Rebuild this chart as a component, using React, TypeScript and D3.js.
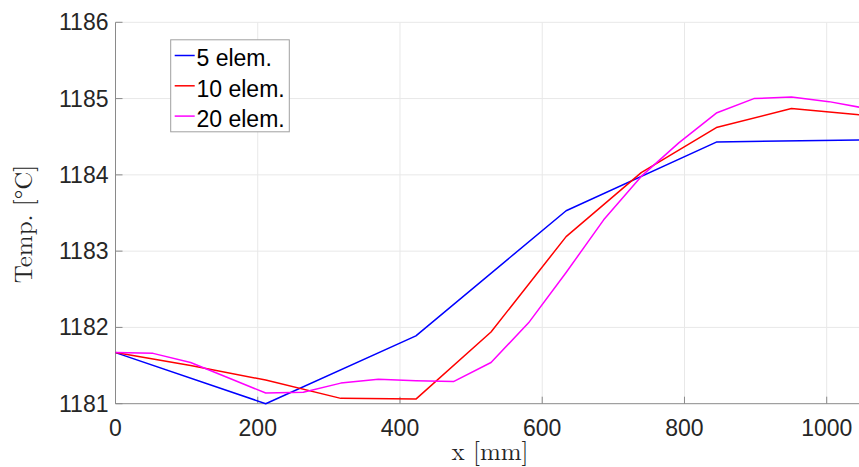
import React from "react";
import * as d3 from "d3";

const W = 859;
const H = 467;

const xTicks = [0, 200, 400, 600, 800, 1000];
const yTicks = [1181, 1182, 1183, 1184, 1185, 1186];

const seriesNames = ["5 elem.", "10 elem.", "20 elem."];
const seriesColors = ["#0000ff", "#ff0000", "#ff00ff"];

const x5 = [0, 211.2, 422.4, 633.6, 844.8, 1056];
const y5 = [1181.67, 1181.0, 1181.89, 1183.53, 1184.43, 1184.46];

const x10 = [0, 105.6, 211.2, 316.8, 422.4, 528, 633.6, 739.2, 844.8, 950.4, 1056];
const y10 = [1181.67, 1181.5, 1181.31, 1181.07, 1181.06, 1181.94, 1183.19, 1184.03, 1184.62, 1184.87, 1184.78];

const x20 = [0, 52.8, 105.6, 158.4, 211.2, 264, 316.8, 369.6, 422.4, 475.2, 528, 580.8, 633.6, 686.4, 739.2, 792, 844.8, 897.6, 950.4, 1003.2, 1056];
const y20 = [1181.67, 1181.66, 1181.54, 1181.34, 1181.14, 1181.15, 1181.27, 1181.32, 1181.3, 1181.29, 1181.54, 1182.06, 1182.72, 1183.41, 1183.98, 1184.42, 1184.81, 1185.0, 1185.02, 1184.96, 1184.87];

const xs = [x5, x10, x20];
const ys = [y5, y10, y20];

const left = 115.5;
const top = 22.3;
const bottom = 403.7;
const right = 859;

export default function App() {
  const x = d3.scaleLinear().domain([0, 1045.4]).range([left, right]);
  const y = d3.scaleLinear().domain([1181, 1186]).range([bottom, top]);
  const line = d3
    .line<[number, number]>()
    .x((d) => x(d[0]))
    .y((d) => y(d[1]));
  const tickFont = "Liberation Sans, Arial, Helvetica, sans-serif";
  const serif = "Latin Modern Roman, CMU Serif, DejaVu Serif, Liberation Serif, serif";
  return (
    <svg
      width={W}
      height={H}
      style={{ position: "fixed", left: 0, top: 0, background: "#fff" }}
    >
      <defs>
        <clipPath id="plotclip">
          <rect x={left} y={top - 2} width={right - left + 10} height={bottom - top + 4} />
        </clipPath>
      </defs>
      <rect x={0} y={0} width={W} height={H} fill="#fff" />
      {/* grid */}
      {xTicks.filter((t) => t > 0).map((t) => (
        <line key={"gx" + t} x1={x(t)} x2={x(t)} y1={top} y2={bottom} stroke="#e8e8e8" strokeWidth={1} />
      ))}
      {yTicks.filter((t) => t > 1181).map((t) => (
        <line key={"gy" + t} x1={left} x2={right} y1={y(t)} y2={y(t)} stroke="#e8e8e8" strokeWidth={1} />
      ))}
      {/* axes */}
      <line x1={left} x2={left} y1={top} y2={bottom} stroke="#8a8a8a" strokeWidth={1} />
      <line x1={left} x2={right} y1={bottom} y2={bottom} stroke="#8a8a8a" strokeWidth={1} />
      {xTicks.map((t) => (
        <line key={"tx" + t} x1={x(t)} x2={x(t)} y1={bottom} y2={bottom - 7} stroke="#8a8a8a" strokeWidth={1} />
      ))}
      {yTicks.map((t) => (
        <line key={"ty" + t} x1={left} x2={left + 7} y1={y(t)} y2={y(t)} stroke="#8a8a8a" strokeWidth={1} />
      ))}
      {/* lines */}
      <g clipPath="url(#plotclip)">
        {xs.map((xa, i) => (
          <path
            key={"s" + i}
            d={line(xa.map((v, j) => [v, ys[i][j]] as [number, number])) || ""}
            fill="none"
            stroke={seriesColors[i]}
            strokeWidth={1.5}
            strokeLinejoin="round"
          />
        ))}
      </g>
      {/* tick labels */}
      {xTicks.map((t) => (
        <text key={"lx" + t} x={x(t)} y={436} textAnchor="middle" fontFamily={tickFont} fontSize={23} fill="#262626">
          {t}
        </text>
      ))}
      {yTicks.map((t) => (
        <text key={"ly" + t} x={108.5} y={y(t)} dy="0.35em" textAnchor="end" fontFamily={tickFont} fontSize={23} fill="#262626">
          {t}
        </text>
      ))}
      {/* axis labels */}
      <text x={490} y={460} textAnchor="middle" fontFamily={serif} fontSize={25} fill="#262626">
        x [mm]
      </text>
      <text
        transform={`translate(32,224) rotate(-90)`}
        textAnchor="middle"
        fontFamily={serif}
        fontSize={25}
        fill="#262626"
      >
        Temp. [°C]
      </text>
      {/* legend */}
      <rect x={170.7} y={39.8} width={118.6} height={92} fill="#fff" stroke="#a0a0a0" strokeWidth={1} />
      {seriesNames.map((n, i) => {
        const ly = 55.5 + i * 30.3;
        return (
          <g key={"lg" + i}>
            <line x1={174.7} x2={194.7} y1={ly} y2={ly} stroke={seriesColors[i]} strokeWidth={1.5} />
            <text x={196.5} y={ly + 2.8} dy="0.35em" fontFamily={tickFont} fontSize={23} fill="#000">
              {n}
            </text>
          </g>
        );
      })}
    </svg>
  );
}
